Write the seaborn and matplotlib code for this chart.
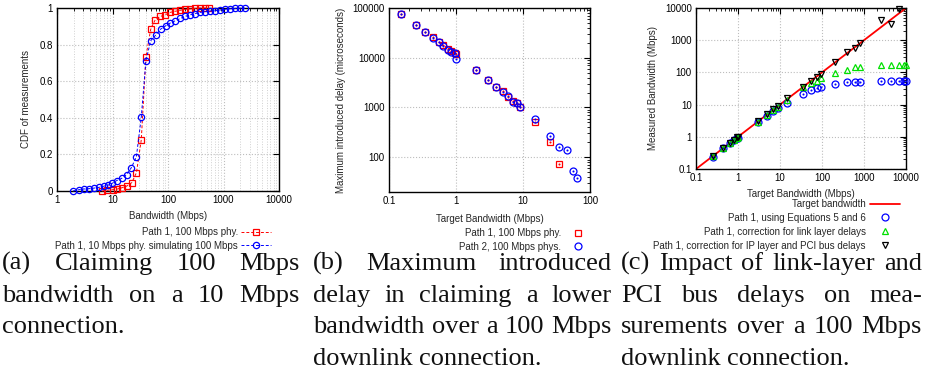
import numpy as np
import pandas as pd
import seaborn as sns
import matplotlib.pyplot as plt
from matplotlib.lines import Line2D
from matplotlib.ticker import FuncFormatter, NullFormatter, LogLocator, FixedLocator

# ---- data ----
# (a) CDF of bandwidth measurements
cdf_100_bw = [6.4, 8.1, 10, 12.3, 14.9, 18.1, 22.3, 27, 33, 40, 49, 59, 73, 89, 109,
              134, 164, 202, 250, 305, 375, 460, 550]
cdf_100 = [0.0, 0.004, 0.007, 0.011, 0.018, 0.027, 0.046, 0.10, 0.28, 0.733, 0.887, 0.936,
           0.954, 0.963, 0.976, 0.982, 0.987, 0.993, 0.995, 0.998, 1.0, 1.0, 1.0]
cdf_10_bw = [1.94, 2.46, 3.06, 3.83, 4.7, 5.7, 6.9, 8.2, 9.9, 11.9, 14.6, 18, 21.9, 26.9,
             33, 40, 48.7, 60, 74, 91, 110, 135, 167, 205, 250, 307, 378, 465, 570, 700,
             867, 1065, 1310, 1610, 1980, 2440]
cdf_10 = [0.0, 0.007, 0.011, 0.013, 0.016, 0.02, 0.026, 0.031, 0.042, 0.057, 0.069, 0.09,
          0.128, 0.186, 0.404, 0.711, 0.821, 0.852, 0.885, 0.903, 0.918, 0.93, 0.943, 0.954,
          0.963, 0.969, 0.976, 0.98, 0.984, 0.985, 0.989, 0.993, 0.996, 0.998, 0.999, 0.999]

# (b) maximum introduced delay
delay_p1_bw = [0.15, 0.25, 0.35, 0.45, 0.55, 0.65, 0.75, 0.85, 0.95, 1, 2, 3, 4, 5, 6, 7, 8,
               9, 15, 25, 35]
delay_p1 = [77000, 46500, 33300, 26000, 21000, 17800, 15000, 13400, 12500, 11800, 5600,
            3650, 2620, 2100, 1650, 1380, 1220, 1000, 502, 207, 73]
delay_p2_bw = [0.15, 0.25, 0.35, 0.45, 0.55, 0.65, 0.75, 0.85, 0.95, 1, 2, 3, 4, 5, 6, 7, 8,
               9, 15, 25, 35, 45, 55, 65]
delay_p2 = [76800, 46000, 32700, 25500, 20500, 17300, 14400, 12900, 12300, 9600, 5570, 3600,
            2600, 2080, 1740, 1300, 1240, 1020, 590, 270, 161, 138, 53, 37.6]

# (c) measured vs target bandwidth
ideal = [0.1, 10000]
c_target = [0.25, 0.45, 0.65, 0.8, 0.95, 1, 3, 5, 7, 9, 15, 35, 55, 75, 95, 200, 400, 600,
            800, 2500, 4500, 7000, 9000, 10000]
c_eq = [0.24, 0.44, 0.62, 0.77, 0.9, 0.95, 2.8, 4.5, 6.2, 7.8, 11.5, 21.8, 27.7, 32.8, 35.3,
        43.6, 49, 49, 51.5, 56, 56, 56, 56, 56]
c_link = [0.25, 0.45, 0.65, 0.8, 0.94, 0.99, 2.95, 4.9, 6.8, 8.7, 14.2, 35, 47, 56, 65, 96,
          122, 144, 144, 166, 168, 168, 168, 168]
c_ip_target = [0.25, 0.45, 0.65, 0.8, 0.95, 1, 3, 5, 7, 9, 15, 35, 55, 75, 95, 200, 400, 600,
               800, 2500, 4500, 7000]
c_ip = [0.25, 0.46, 0.66, 0.82, 0.97, 1.02, 3.05, 5.1, 7.1, 9.2, 15.5, 35, 55, 70, 91, 209,
        430, 560, 810, 4100, 3200, 9300]

captions = {
    "a": [("(a) Claiming 100 Mbps", True), ("bandwidth on a 10 Mbps", True),
          ("connection.", False)],
    "b": [("(b) Maximum introduced", True), ("delay in claiming a lower", True),
          ("bandwidth over a 100 Mbps", True), ("downlink connection.", False)],
    "c": [("(c) Impact of link-layer and", True), ("PCI bus delays on mea-", True),
          ("surements over a 100 Mbps", True), ("downlink connection.", False)],
}

sns.set_theme(style="white")
plt.rcParams['font.family'] = ['Liberation Sans', 'DejaVu Sans']
plt.rcParams['font.size'] = 7

W, H = 927, 376
fig = plt.figure(figsize=(W / 100, H / 100), dpi=100)


def px_axes(left, top, right, bottom):
    return fig.add_axes([left / W, 1 - bottom / H, (right - left) / W, (bottom - top) / H])


fmt = FuncFormatter(lambda v, _: f"{v:g}")
grid_kw = dict(color='#bdbdbd', linestyle=':', linewidth=0.8)


def style(ax):
    for s in ax.spines.values():
        s.set_color('black')
        s.set_linewidth(1.0)
    ax.tick_params(which='both', direction='in', top=True, right=True, colors='black',
                   labelsize=7, pad=3)
    ax.tick_params(which='major', length=4, width=0.8)
    ax.tick_params(which='minor', length=2, width=0.6)
    ax.xaxis.label.set_size(7)
    ax.yaxis.label.set_size(7)


def points(ax, x, y, color, marker, size, dot=True):
    df = pd.DataFrame({"x": x, "y": y})
    sns.lineplot(data=df, x="x", y="y", ax=ax, estimator=None, sort=False, legend=False,
                 color=color, marker=marker, markersize=size, markerfacecolor='none',
                 markeredgecolor=color, markeredgewidth=0.9, linestyle='', clip_on=False,
                 zorder=3)
    if dot:
        sns.lineplot(data=df, x="x", y="y", ax=ax, estimator=None, sort=False, legend=False,
                     color=color, marker='.', markersize=1.5, markeredgecolor=color,
                     linestyle='', zorder=3)


# ---- (a) ----
ax = px_axes(57, 8, 279, 191)
ax.set_xscale('log')
for bw, val, col, mk in [(cdf_100_bw, cdf_100, 'red', 's'), (cdf_10_bw, cdf_10, 'blue', 'o')]:
    d = pd.DataFrame({"bw": bw, "cdf": val})
    sns.lineplot(data=d, x="bw", y="cdf", ax=ax, estimator=None, sort=False, legend=False,
                 color=col, linestyle=(0, (3, 2)), linewidth=0.7, marker=mk, markersize=4.5,
                 markerfacecolor='none', markeredgecolor=col, markeredgewidth=0.9,
                 clip_on=False, zorder=3)
ax.set_xlim(1, 10000)
ax.set_ylim(0, 1)
ax.yaxis.set_major_locator(FixedLocator([0, 0.2, 0.4, 0.6, 0.8, 1]))
ax.xaxis.set_major_locator(LogLocator(base=10, numticks=10))
ax.xaxis.set_minor_locator(LogLocator(base=10, subs=np.arange(2, 10), numticks=10))
ax.xaxis.set_major_formatter(fmt)
ax.yaxis.set_major_formatter(fmt)
ax.xaxis.set_minor_formatter(NullFormatter())
ax.grid(True, which='major', **grid_kw)
ax.grid(True, which='minor', axis='x', color='#d0d0d0', linestyle=':', linewidth=0.7)
ax.set_xlabel('Bandwidth (Mbps)', labelpad=4)
ax.set_ylabel('CDF of measurements', labelpad=6)
style(ax)

# ---- (b) ----
ax = px_axes(389, 8, 590, 192)
ax.set_xscale('log')
ax.set_yscale('log')
points(ax, delay_p1_bw, delay_p1, 'red', 's', 5)
points(ax, delay_p2_bw, delay_p2, 'blue', 'o', 5)
ax.set_xlim(0.1, 100)
ax.set_ylim(20, 100000)
ax.xaxis.set_major_locator(LogLocator(base=10, numticks=10))
ax.yaxis.set_major_locator(LogLocator(base=10, numticks=10))
for a in (ax.xaxis, ax.yaxis):
    a.set_major_formatter(fmt)
    a.set_minor_formatter(NullFormatter())
ax.grid(True, which='major', **grid_kw)
ax.set_xlabel('Target Bandwidth (Mbps)', labelpad=6)
ax.set_ylabel('Maximum introduced delay (microseconds)', labelpad=5)
style(ax)

# ---- (c) ----
ax = px_axes(696, 8, 906, 169)
ax.set_xscale('log')
ax.set_yscale('log')
sns.lineplot(x=ideal, y=ideal, ax=ax, color='red', linewidth=1.3, estimator=None,
             legend=False, zorder=2)
points(ax, c_target, c_eq, 'blue', 'o', 5)
points(ax, c_target, c_link, '#00e000', '^', 5, dot=False)
points(ax, c_ip_target, c_ip, 'black', 'v', 5, dot=False)
ax.set_xlim(0.1, 10000)
ax.set_ylim(0.1, 10000)
ax.xaxis.set_major_locator(LogLocator(base=10, numticks=10))
ax.yaxis.set_major_locator(LogLocator(base=10, numticks=10))
for a in (ax.xaxis, ax.yaxis):
    a.set_major_formatter(fmt)
    a.set_minor_formatter(NullFormatter())
ax.grid(True, which='major', **grid_kw)
ax.set_xlabel('Target Bandwidth (Mbps)', labelpad=4)
ax.set_ylabel('Measured Bandwidth (Mbps)', labelpad=5)
style(ax)

# ---- legends ----
def hollow(color, marker, ls='', dot=False):
    return Line2D([], [], color=color, marker=marker, markersize=5 if ls == '' else 4.5,
                  markerfacecolor='none', markeredgecolor=color, markeredgewidth=0.9,
                  linestyle=ls, linewidth=0.7)


leg_kw = dict(frameon=False, markerfirst=False, fontsize=7, borderpad=0, borderaxespad=0,
              labelspacing=0.4, loc='upper right')
fig.legend([hollow('red', 's', (0, (3, 2))), hollow('blue', 'o', (0, (3, 2)))],
           ['Path 1, 100 Mbps phy.', 'Path 1, 10 Mbps phy. simulating 100 Mbps'],
           bbox_to_anchor=(271 / W, 1 - 227 / H), handlelength=3.1, handletextpad=0.3,
           **leg_kw)
fig.legend([hollow('red', 's'), hollow('blue', 'o')],
           ['Path 1, 100 Mbps phy.', 'Path 2, 100 Mbps phys.'],
           bbox_to_anchor=(590 / W, 1 - 228 / H), handlelength=2.4, handletextpad=0.6,
           **leg_kw)
fig.legend([Line2D([], [], color='red', linewidth=1.3), hollow('blue', 'o'),
            hollow('#00e000', '^'), hollow('black', 'v')],
           ['Target bandwidth', 'Path 1, using Equations 5 and 6',
            'Path 1, correction for link layer delays',
            'Path 1, correction for IP layer and PCI bus delays'],
           bbox_to_anchor=(900 / W, 1 - 199 / H), handlelength=3.1, handletextpad=0.4,
           **leg_kw)

# ---- captions (justified, serif) ----
cap_font = dict(family=['Liberation Serif', 'DejaVu Serif'], fontsize=19, va='baseline',
                color='#111111')
renderer = fig.canvas.get_renderer()


def caption(lines, x0, x1, base0, dy=31.6):
    space = fig.text(0, 0, 'a a', **cap_font)
    one = fig.text(0, 0, 'aa', **cap_font)
    sp = space.get_window_extent(renderer).width - one.get_window_extent(renderer).width
    space.remove()
    one.remove()
    for i, (line, just) in enumerate(lines):
        words = line.split(' ')
        y = 1 - (base0 + i * dy) / H
        texts = [fig.text(0, y, w, **cap_font) for w in words]
        widths = [t.get_window_extent(renderer).width for t in texts]
        gap = (x1 - x0 - sum(widths)) / (len(words) - 1) if just and len(words) > 1 else sp
        x = x0
        for t, w in zip(texts, widths):
            t.set_x(x / W)
            x += w + gap


caption(captions["a"], 2, 300, 270)
caption(captions["b"], 313, 612, 270)
caption(captions["c"], 621, 922, 270)

fig.savefig('out.png', dpi=100)
